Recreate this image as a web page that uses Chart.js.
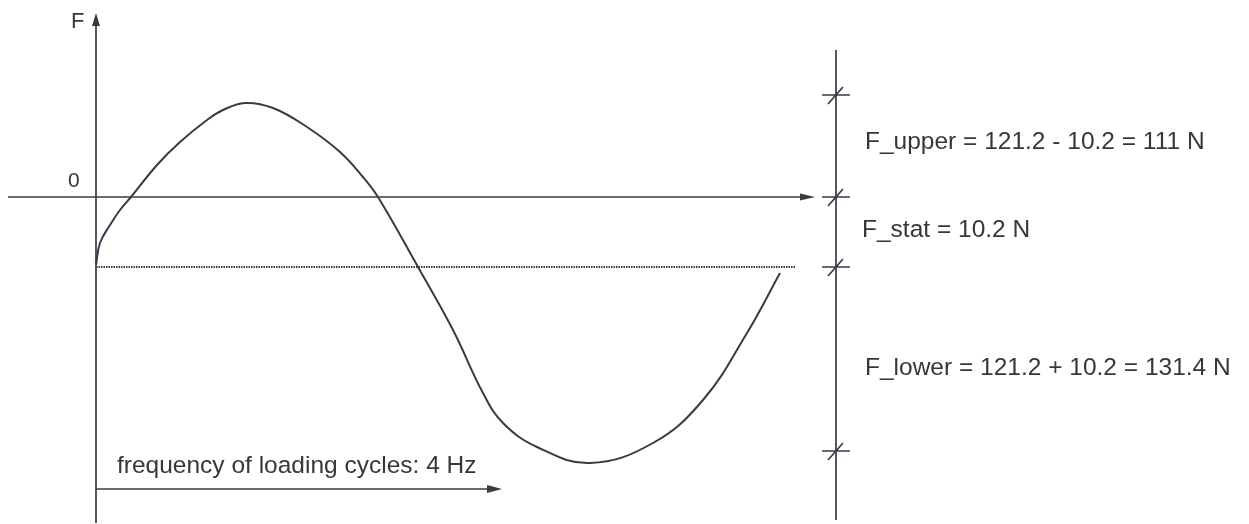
<!DOCTYPE html>
<html>
<head>
<meta charset="utf-8">
<script src="https://cdn.jsdelivr.net/npm/chart.js@4/dist/chart.umd.min.js"></script>
<style>
  html, body { margin: 0; padding: 0; background: #ffffff; }
  #c { display: block; }
</style>
</head>
<body>
<canvas id="c" width="1249" height="524"></canvas>
<script>
// ---- data (drawing units: x = time, y = force) ----
const curveTime  = [0, 4, 14, 24, 35, 61, 84, 111, 127, 149, 177, 211, 244, 267, 282, 322, 357, 387, 407, 441, 494, 557, 607, 651, 684];
const curveForce = [-68, -46, -28, -13, 0, 32, 55, 77, 87, 94, 89, 70, 45, 20, 0, -70, -133, -196, -226, -250, -266, -246, -203, -136, -76];

const levelNames  = ['F_upper', 'zero', 'F_stat', 'F_lower'];
const levelValues = [102, 0, -70, -254];

const labelTexts = [
  'F_upper = 121.2 - 10.2 = 111 N',
  'F_stat = 10.2 N',
  'F_lower = 121.2 + 10.2 = 131.4 N'
];
const freqText = 'frequency of loading cycles: 4 Hz';
const axisNameY = 'F';
const zeroLabel = '0';

const INK = '#3a3a46';
const TXT = '#36363c';

const curveData = curveTime.map((t, i) => ({ x: t, y: curveForce[i] }));

const seg = (x1, y1, x2, y2) => [{ x: x1, y: y1 }, { x: x2, y: y2 }];

const drawingPlugin = {
  id: 'drawing',
  afterDatasetsDraw(chart) {
    const ctx = chart.ctx;
    const xs = chart.scales.x, ys = chart.scales.y;
    const X = v => xs.getPixelForValue(v);
    const Y = v => ys.getPixelForValue(v);
    ctx.save();
    ctx.fillStyle = INK;
    ctx.strokeStyle = INK;

    const tri = (p1, p2, p3) => {
      ctx.beginPath();
      ctx.moveTo(p1[0], p1[1]); ctx.lineTo(p2[0], p2[1]); ctx.lineTo(p3[0], p3[1]);
      ctx.closePath(); ctx.fill();
    };
    // vertical axis (up)
    let tx = X(0), ty = Y(184);
    tri([tx, ty], [tx - 4, ty + 13], [tx + 4, ty + 13]);
    // horizontal axis (right)
    tx = X(719); ty = Y(0);
    tri([tx, ty], [tx - 15, ty - 3.5], [tx - 15, ty + 3.5]);
    // frequency arrow
    tx = X(406); ty = Y(-292);
    tri([tx, ty], [tx - 15, ty - 4], [tx - 15, ty + 4]);

    // ruler ticks
    ctx.lineWidth = 1.7;
    const rx = X(740);
    levelValues.forEach(v => {
      const py = Y(v);
      ctx.beginPath();
      ctx.moveTo(rx - 14, py); ctx.lineTo(rx + 14, py);
      ctx.moveTo(rx - 8, py + 9); ctx.lineTo(rx + 7, py - 8);
      ctx.stroke();
    });

    // texts
    ctx.fillStyle = TXT;
    ctx.textBaseline = 'alphabetic';
    ctx.textAlign = 'left';
    ctx.font = '24.5px "Liberation Sans", Arial, sans-serif';
    ctx.fillText(labelTexts[0], X(769), Y(48));
    ctx.fillText(labelTexts[1], X(766), Y(-40));
    ctx.fillText(labelTexts[2], X(769), Y(-178));
    ctx.fillText(freqText, X(21), Y(-276));
    ctx.font = '22px "Liberation Sans", Arial, sans-serif';
    ctx.fillText(axisNameY, X(-25), Y(169));
    ctx.font = '21px "Liberation Sans", Arial, sans-serif';
    ctx.fillText(zeroLabel, X(-28), Y(10));
    ctx.restore();
  }
};

const lineDs = (data, extra) => Object.assign({
  data, showLine: true, borderColor: INK, borderWidth: 1.7,
  pointRadius: 0, pointHoverRadius: 0, fill: false, tension: 0
}, extra || {});

new Chart(document.getElementById('c'), {
  type: 'scatter',
  data: {
    datasets: [
      lineDs(curveData, { tension: 0.4, borderWidth: 2 }),
      lineDs(seg(0, -326, 0, 175)),                 // vertical axis
      lineDs(seg(-88, 0, 706, 0)),                  // horizontal axis
      lineDs(seg(0, -70, 700, -70), { borderDash: [1.5, 1], borderWidth: 1.8 }), // static level
      lineDs(seg(740, 147, 740, -323)),             // ruler
      lineDs(seg(0, -292, 394, -292))               // frequency arrow
    ]
  },
  options: {
    responsive: false,
    devicePixelRatio: 1,
    animation: false,
    events: [],
    layout: { padding: 0 },
    plugins: { legend: { display: false }, tooltip: { enabled: false }, title: { display: false } },
    scales: {
      x: { type: 'linear', min: -96, max: 1153, display: false },
      y: { type: 'linear', min: -327, max: 197, display: false }
    }
  },
  plugins: [drawingPlugin]
});
</script>
</body>
</html>
